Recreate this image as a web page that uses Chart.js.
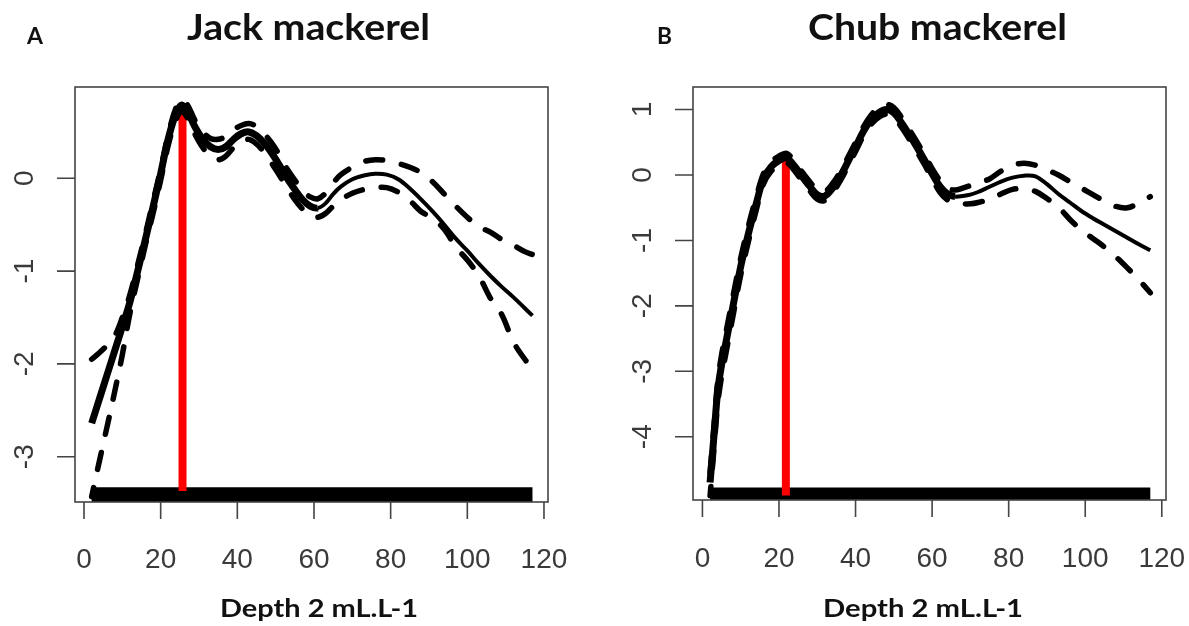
<!DOCTYPE html>
<html><head><meta charset="utf-8">
<script src="https://cdn.jsdelivr.net/npm/chart.js@4/dist/chart.umd.min.js"></script>
<style>
html,body{margin:0;padding:0;background:#fff;width:1189px;height:626px;overflow:hidden;}
canvas{position:absolute;top:0;}
svg{position:absolute;left:0;top:0;pointer-events:none;}
</style></head><body>
<canvas id="cA" width="594" height="626" style="left:0px"></canvas>
<canvas id="cB" width="594" height="626" style="left:595px"></canvas>
<svg id="txt" width="1189" height="626" xmlns="http://www.w3.org/2000/svg"></svg>
<script>
// ---------- data ----------
const xTicks = [0, 20, 40, 60, 80, 100, 120];
const yTicksA = [0, -1, -2, -3];
const yTicksB = [1, 0, -1, -2, -3, -4];

const depthA = [2,4,6,8,10,12,14,16,18,20,22,24,25.5,27,29,31,33,35,37,39,41,43,45,47,49,51,53,55,57,59,61,63,65,67,70,73,76,79,82,85,88,91,94,97,100,103,106,109,112,115,117];
const fitA = [-2.64,-2.38,-2.12,-1.86,-1.6,-1.33,-1.0,-0.66,-0.31,0.05,0.43,0.7,0.79,0.72,0.55,0.42,0.34,0.31,0.34,0.42,0.48,0.5,0.46,0.38,0.27,0.14,0.0,-0.12,-0.23,-0.3,-0.32,-0.27,-0.17,-0.09,-0.01,0.03,0.05,0.04,-0.01,-0.11,-0.23,-0.36,-0.5,-0.65,-0.78,-0.92,-1.05,-1.17,-1.28,-1.4,-1.48];
const upperA = [-1.95,-1.88,-1.8,-1.7,-1.5,-1.25,-0.93,-0.6,-0.25,0.1,0.48,0.76,0.85,0.79,0.62,0.5,0.43,0.42,0.45,0.52,0.57,0.59,0.56,0.48,0.38,0.25,0.1,-0.02,-0.13,-0.2,-0.22,-0.16,-0.05,0.04,0.12,0.18,0.2,0.19,0.16,0.12,0.06,-0.04,-0.17,-0.3,-0.42,-0.52,-0.58,-0.66,-0.72,-0.79,-0.82];
const lowerA = [-3.43,-3.05,-2.68,-2.3,-1.9,-1.45,-1.08,-0.72,-0.38,-0.02,0.36,0.63,0.72,0.65,0.47,0.33,0.24,0.2,0.24,0.33,0.4,0.42,0.37,0.28,0.16,0.03,-0.1,-0.23,-0.33,-0.4,-0.42,-0.38,-0.3,-0.23,-0.16,-0.12,-0.1,-0.1,-0.15,-0.24,-0.36,-0.43,-0.55,-0.74,-0.88,-1.05,-1.29,-1.47,-1.76,-1.95,-2.05];
const optimumA = [25.7, -3.37, 0.72];   // depth, bottom, top of red marker
const rugA = [2, 117, -3.41];           // from, to, level

const depthB = [2,3,4,5,6,8,10,12,14,16,18,20,22,24,26,28,30,32,34,36,38,40,42,44,46,48,50,52,54,56,58,60,62,64,66,68,70,72,75,78,81,84,87,90,93,96,99,102,105,108,111,114,117];
const fitB = [-4.7,-4.0,-3.3,-2.9,-2.6,-2.0,-1.4,-0.9,-0.45,-0.05,0.13,0.22,0.26,0.14,-0.02,-0.17,-0.3,-0.32,-0.2,-0.02,0.2,0.43,0.66,0.84,0.95,1.0,0.95,0.8,0.62,0.43,0.23,0.02,-0.17,-0.29,-0.33,-0.32,-0.3,-0.26,-0.18,-0.1,-0.04,-0.01,-0.02,-0.14,-0.29,-0.42,-0.55,-0.66,-0.76,-0.86,-0.96,-1.06,-1.15];
const upperB = [-4.55,-3.85,-3.15,-2.75,-2.45,-1.85,-1.27,-0.78,-0.35,0.03,0.2,0.29,0.33,0.21,0.05,-0.1,-0.23,-0.25,-0.13,0.05,0.27,0.5,0.73,0.91,1.03,1.08,1.03,0.88,0.7,0.51,0.31,0.1,-0.08,-0.2,-0.23,-0.2,-0.16,-0.12,-0.06,0.06,0.15,0.18,0.15,0.08,0.0,-0.1,-0.2,-0.3,-0.4,-0.48,-0.5,-0.43,-0.33];
const lowerB = [-4.9,-4.2,-3.5,-3.08,-2.77,-2.15,-1.53,-1.02,-0.55,-0.13,0.06,0.15,0.19,0.07,-0.09,-0.24,-0.37,-0.39,-0.27,-0.09,0.13,0.36,0.59,0.77,0.88,0.93,0.88,0.73,0.55,0.36,0.16,-0.06,-0.26,-0.38,-0.43,-0.44,-0.44,-0.42,-0.37,-0.29,-0.22,-0.21,-0.25,-0.36,-0.49,-0.68,-0.84,-0.97,-1.1,-1.25,-1.42,-1.6,-1.8];
const optimumB = [21.8, -4.9, 0.25];
const rugB = [2, 117, -4.89];

// ---------- helpers ----------
const pts = (xs, ys) => xs.map((x, i) => ({x, y: ys[i]}));
const svg = document.getElementById('txt');
function addText(str, attrs, rot) {
  const t = document.createElementNS('http://www.w3.org/2000/svg', 'text');
  for (const k in attrs) t.setAttribute(k, attrs[k]);
  t.textContent = str;
  svg.appendChild(t);
}

const framePlugin = {
  id: 'frame',
  afterDatasetsDraw(chart, args, opts) {
    const {ctx, chartArea: a, scales} = chart;
    ctx.save();
    ctx.strokeStyle = '#444';
    ctx.lineWidth = 1.6;
    ctx.strokeRect(a.left, a.top, a.right - a.left, a.bottom - a.top);
    ctx.beginPath();
    xTicks.forEach(v => {
      const p = scales.x.getPixelForValue(v);
      ctx.moveTo(p, a.bottom); ctx.lineTo(p, a.bottom + 17);
    });
    opts.yTicks.forEach(v => {
      const p = scales.y.getPixelForValue(v);
      ctx.moveTo(a.left - 18, p); ctx.lineTo(a.left, p);
    });
    ctx.stroke();
    ctx.restore();
  }
};

function makePanel(canvasId, offsetX, P) {
  const ch = new Chart(document.getElementById(canvasId), {
    type: 'line',
    data: { datasets: [
      { data: pts(P.xs, P.fit), borderColor: '#000', borderWidth: 4, pointRadius: 0, tension: 0.35, order: 1,
        segment: { borderWidth: c => (c.p0.parsed.x < P.heavyUntil ? 7 : 4) } },
      { data: pts(P.xs, P.upper), borderColor: '#000', borderWidth: 5.5, borderDash: [17, 19], borderCapStyle: 'round', pointRadius: 0, tension: 0.35, order: 1 },
      { data: pts(P.xs, P.lower), borderColor: '#000', borderWidth: 5.5, borderDash: [17, 19], borderDashOffset: 8, borderCapStyle: 'round', pointRadius: 0, tension: 0.35, order: 1 },
      { data: [{x: P.opt[0], y: P.opt[1]}, {x: P.opt[0], y: P.opt[2]}], borderColor: '#ff0000', borderWidth: 8, pointRadius: 0, order: 2 },
      { data: [{x: P.rug[0], y: P.rug[2]}, {x: P.rug[1], y: P.rug[2]}], borderColor: '#000', borderWidth: 15, borderCapStyle: 'butt', pointRadius: 0, order: 3 }
    ]},
    options: {
      responsive: false, animation: false, devicePixelRatio: 1, events: [],
      layout: { padding: P.pad },
      plugins: { legend: { display: false }, tooltip: { enabled: false }, frame: { yTicks: P.yTicks } },
      scales: {
        x: { type: 'linear', display: false, min: P.xr[0], max: P.xr[1] },
        y: { type: 'linear', display: false, min: P.yr[0], max: P.yr[1] }
      }
    },
    plugins: [framePlugin]
  });
  const a = ch.chartArea;
  xTicks.forEach(v => {
    addText(String(v), { x: offsetX + ch.scales.x.getPixelForValue(v), y: P.xLabBase, 'text-anchor': 'middle',
      'font-family': 'Liberation Sans, Arial, sans-serif', 'font-size': 28, fill: '#3a3a3a' });
  });
  P.yTicks.forEach(v => {
    const py = ch.scales.y.getPixelForValue(v);
    const bx = offsetX + a.left - 42;
    addText(String(v), { transform: `translate(${bx},${py}) rotate(-90)`, x: 0, y: 0, 'text-anchor': 'middle',
      'font-family': 'Liberation Sans, Arial, sans-serif', 'font-size': 28, fill: '#3a3a3a' });
  });
  return ch;
}

makePanel('cA', 0, {
  xs: depthA, fit: fitA, upper: upperA, lower: lowerA, opt: optimumA, rug: rugA, yTicks: yTicksA,
  heavyUntil: 60, pad: {left: 75, right: 46, top: 87, bottom: 124},
  xr: [-2.35, 121.05], yr: [-3.488, 0.984], xLabBase: 568
});
makePanel('cB', 595, {
  xs: depthB, fit: fitB, upper: upperB, lower: lowerB, opt: optimumB, rug: rugB, yTicks: yTicksB,
  heavyUntil: 66, pad: {left: 98, right: 23, top: 87, bottom: 126},
  xr: [-2.46, 121.1], yr: [-4.967, 1.345], xLabBase: 567
});

// titles & labels
const bold = { 'font-family': 'Lato, Open Sans, sans-serif', 'font-weight': 'bold', fill: '#111', lengthAdjust: 'spacingAndGlyphs' };
addText('A', Object.assign({ x: 27, y: 44, 'font-size': 23, textLength: 16 }, bold));
addText('B', Object.assign({ x: 657, y: 44, 'font-size': 23, textLength: 15 }, bold));
addText('Jack mackerel', Object.assign({ x: 187, y: 40, 'font-size': 37, textLength: 243 }, bold));
addText('Chub mackerel', Object.assign({ x: 808, y: 40, 'font-size': 37, textLength: 259 }, bold));
addText('Depth 2 mL.L-1', Object.assign({ x: 220, y: 617, 'font-size': 24, textLength: 198 }, bold));
addText('Depth 2 mL.L-1', Object.assign({ x: 823, y: 617, 'font-size': 24, textLength: 200 }, bold));
</script>
</body></html>
